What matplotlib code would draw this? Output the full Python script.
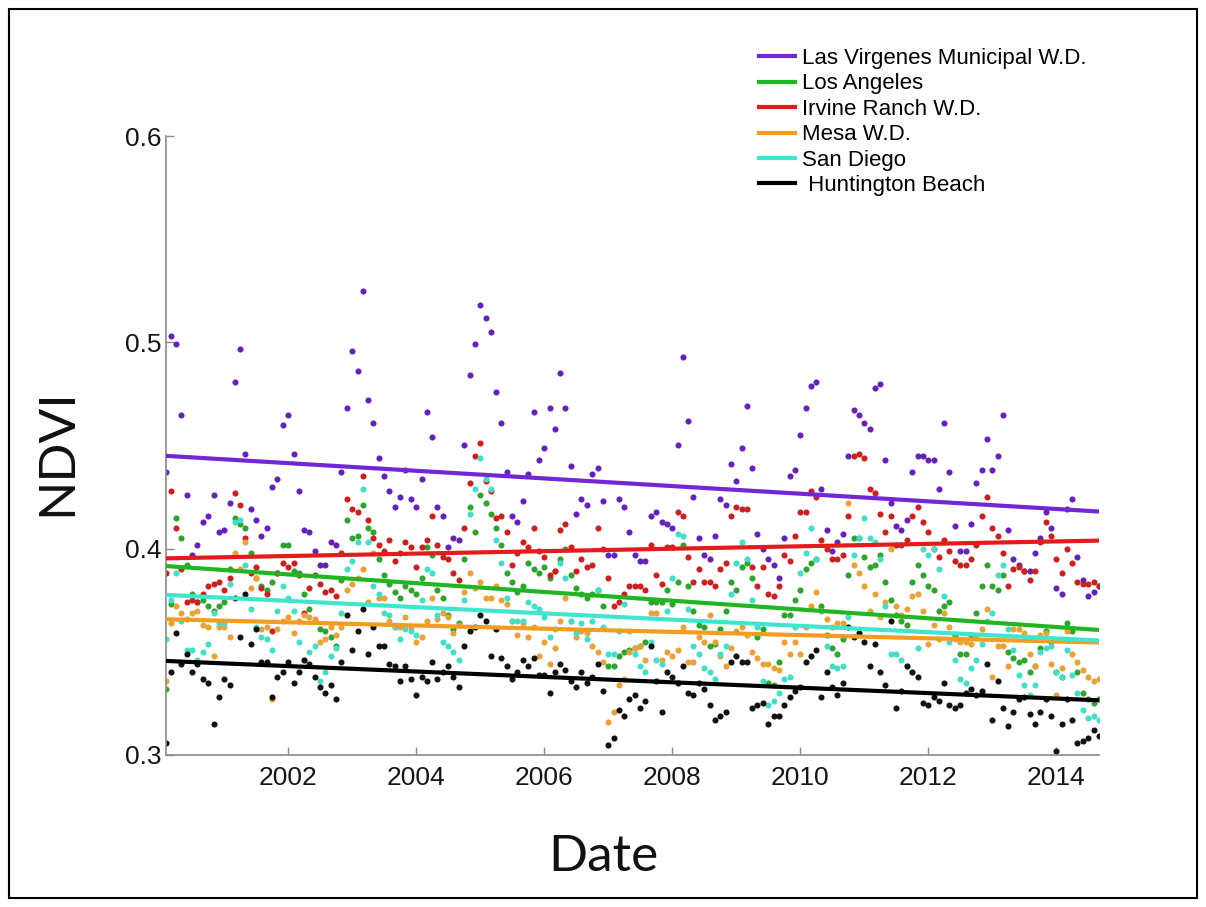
import numpy as np
import pandas as pd
import matplotlib
matplotlib.use("Agg")
import matplotlib.pyplot as plt
import matplotlib.dates as mdates
from matplotlib.lines import Line2D
from matplotlib.patches import Rectangle

# Monthly NDVI per water district, Feb 2000 - Sep 2014 (one row per year)
dates = pd.date_range("2000-02-01", "2014-09-01", freq="MS")

las_virgenes = [
    0.437, 0.503, 0.499, 0.465, 0.426, 0.397, 0.402, 0.413, 0.416, 0.426, 0.408,
    0.409, 0.422, 0.481, 0.497, 0.446, 0.419, 0.414, 0.406, 0.410, 0.430, 0.434, 0.460,
    0.465, 0.446, 0.428, 0.409, 0.408, 0.399, 0.392, 0.392, 0.403, 0.402, 0.437, 0.468,
    0.496, 0.486, 0.525, 0.472, 0.461, 0.444, 0.435, 0.428, 0.420, 0.425, 0.438, 0.424,
    0.420, 0.434, 0.466, 0.454, 0.420, 0.416, 0.401, 0.405, 0.404, 0.450, 0.484, 0.499,
    0.518, 0.512, 0.505, 0.476, 0.461, 0.437, 0.416, 0.413, 0.423, 0.436, 0.466, 0.443,
    0.449, 0.468, 0.458, 0.485, 0.468, 0.440, 0.417, 0.424, 0.421, 0.436, 0.439, 0.423,
    0.397, 0.397, 0.424, 0.420, 0.408, 0.397, 0.394, 0.394, 0.416, 0.418, 0.413, 0.412,
    0.410, 0.450, 0.493, 0.462, 0.425, 0.405, 0.397, 0.395, 0.406, 0.424, 0.421, 0.441,
    0.433, 0.449, 0.469, 0.439, 0.407, 0.400, 0.395, 0.392, 0.386, 0.405, 0.435, 0.438,
    0.455, 0.468, 0.479, 0.481, 0.429, 0.409, 0.399, 0.403, 0.407, 0.445, 0.467, 0.465,
    0.461, 0.458, 0.478, 0.480, 0.443, 0.422, 0.411, 0.409, 0.414, 0.437, 0.445, 0.445,
    0.443, 0.443, 0.429, 0.461, 0.437, 0.411, 0.399, 0.399, 0.412, 0.432, 0.438, 0.453,
    0.438, 0.445, 0.465, 0.409, 0.395, 0.392, 0.389, 0.389, 0.398, 0.405, 0.418, 0.410,
    0.381, 0.378, 0.419, 0.424, 0.396, 0.385, 0.377, 0.379, 0.382,
]

los_angeles = [
    0.332, 0.373, 0.415, 0.405, 0.392, 0.378, 0.374, 0.375, 0.372, 0.370, 0.372,
    0.374, 0.390, 0.415, 0.412, 0.410, 0.398, 0.386, 0.382, 0.380, 0.384, 0.388, 0.402,
    0.402, 0.389, 0.388, 0.378, 0.371, 0.365, 0.361, 0.360, 0.357, 0.353, 0.385, 0.414,
    0.405, 0.406, 0.421, 0.410, 0.408, 0.395, 0.387, 0.383, 0.379, 0.376, 0.382, 0.380,
    0.378, 0.386, 0.401, 0.397, 0.380, 0.376, 0.368, 0.361, 0.364, 0.395, 0.420, 0.408,
    0.426, 0.422, 0.417, 0.410, 0.402, 0.388, 0.384, 0.379, 0.382, 0.393, 0.390, 0.388,
    0.391, 0.386, 0.389, 0.395, 0.400, 0.387, 0.381, 0.378, 0.376, 0.378, 0.380, 0.372,
    0.343, 0.343, 0.348, 0.350, 0.351, 0.352, 0.353, 0.355, 0.374, 0.374, 0.374, 0.380,
    0.373, 0.384, 0.402, 0.382, 0.370, 0.363, 0.362, 0.353, 0.354, 0.361, 0.370, 0.384,
    0.380, 0.391, 0.393, 0.386, 0.357, 0.361, 0.335, 0.334, 0.345, 0.368, 0.368, 0.375,
    0.380, 0.390, 0.393, 0.395, 0.372, 0.358, 0.352, 0.349, 0.356, 0.387, 0.405, 0.405,
    0.396, 0.391, 0.392, 0.397, 0.384, 0.375, 0.368, 0.365, 0.363, 0.384, 0.392, 0.387,
    0.382, 0.380, 0.370, 0.372, 0.374, 0.358, 0.349, 0.349, 0.358, 0.369, 0.382, 0.392,
    0.382, 0.380, 0.387, 0.350, 0.347, 0.345, 0.346, 0.340, 0.343, 0.352, 0.360, 0.355,
    0.340, 0.338, 0.364, 0.360, 0.340, 0.330, 0.327, 0.325, 0.327,
]

irvine_ranch = [
    0.388, 0.428, 0.410, 0.390, 0.374, 0.375, 0.374, 0.378, 0.382, 0.383, 0.384,
    0.380, 0.386, 0.427, 0.421, 0.405, 0.388, 0.391, 0.381, 0.378, 0.360, 0.388, 0.393,
    0.391, 0.393, 0.387, 0.369, 0.381, 0.387, 0.383, 0.379, 0.380, 0.377, 0.398, 0.424,
    0.419, 0.418, 0.435, 0.414, 0.405, 0.402, 0.399, 0.404, 0.394, 0.398, 0.403, 0.401,
    0.391, 0.401, 0.404, 0.416, 0.402, 0.396, 0.395, 0.388, 0.385, 0.410, 0.432, 0.445,
    0.451, 0.433, 0.428, 0.415, 0.416, 0.408, 0.392, 0.398, 0.403, 0.401, 0.410, 0.399,
    0.396, 0.387, 0.389, 0.409, 0.412, 0.401, 0.389, 0.395, 0.391, 0.392, 0.410, 0.400,
    0.386, 0.372, 0.374, 0.378, 0.382, 0.382, 0.382, 0.380, 0.402, 0.387, 0.383, 0.401,
    0.401, 0.418, 0.416, 0.396, 0.384, 0.390, 0.384, 0.384, 0.382, 0.390, 0.393, 0.416,
    0.420, 0.419, 0.419, 0.391, 0.382, 0.391, 0.378, 0.377, 0.382, 0.397, 0.394, 0.406,
    0.418, 0.418, 0.428, 0.425, 0.404, 0.400, 0.395, 0.395, 0.397, 0.416, 0.445, 0.446,
    0.444, 0.429, 0.427, 0.417, 0.408, 0.416, 0.402, 0.402, 0.404, 0.416, 0.420, 0.413,
    0.408, 0.400, 0.396, 0.404, 0.399, 0.394, 0.392, 0.392, 0.395, 0.402, 0.416, 0.425,
    0.410, 0.406, 0.398, 0.382, 0.390, 0.391, 0.389, 0.385, 0.389, 0.403, 0.413, 0.406,
    0.395, 0.388, 0.400, 0.393, 0.384, 0.383, 0.383, 0.384, 0.382,
]

mesa = [
    0.336, 0.364, 0.372, 0.369, 0.366, 0.369, 0.370, 0.363, 0.362, 0.348, 0.362,
    0.362, 0.357, 0.398, 0.390, 0.403, 0.381, 0.386, 0.361, 0.362, 0.327, 0.361, 0.365,
    0.367, 0.359, 0.365, 0.368, 0.367, 0.366, 0.355, 0.356, 0.362, 0.358, 0.362, 0.380,
    0.383, 0.386, 0.390, 0.374, 0.398, 0.376, 0.376, 0.365, 0.362, 0.362, 0.367, 0.362,
    0.355, 0.357, 0.365, 0.376, 0.366, 0.369, 0.367, 0.359, 0.363, 0.379, 0.388, 0.381,
    0.384, 0.376, 0.376, 0.382, 0.375, 0.373, 0.365, 0.358, 0.364, 0.357, 0.362, 0.348,
    0.355, 0.344, 0.352, 0.365, 0.376, 0.365, 0.357, 0.360, 0.359, 0.353, 0.350, 0.345,
    0.316, 0.321, 0.334, 0.337, 0.350, 0.352, 0.353, 0.346, 0.369, 0.369, 0.346, 0.350,
    0.348, 0.351, 0.362, 0.345, 0.345, 0.357, 0.355, 0.368, 0.355, 0.348, 0.343, 0.352,
    0.360, 0.362, 0.358, 0.350, 0.347, 0.344, 0.344, 0.342, 0.341, 0.355, 0.349, 0.355,
    0.349, 0.362, 0.372, 0.379, 0.370, 0.366, 0.362, 0.364, 0.364, 0.422, 0.392, 0.388,
    0.382, 0.370, 0.378, 0.367, 0.374, 0.400, 0.372, 0.368, 0.371, 0.377, 0.378, 0.370,
    0.354, 0.363, 0.356, 0.369, 0.362, 0.356, 0.355, 0.355, 0.354, 0.357, 0.361, 0.371,
    0.338, 0.353, 0.353, 0.343, 0.361, 0.361, 0.359, 0.349, 0.343, 0.358, 0.359, 0.344,
    0.329, 0.342, 0.360, 0.349, 0.345, 0.341, 0.338, 0.336, 0.337,
]

san_diego = [
    0.356, 0.375, 0.388, 0.365, 0.351, 0.351, 0.346, 0.350, 0.354, 0.369, 0.364,
    0.364, 0.383, 0.413, 0.414, 0.392, 0.371, 0.362, 0.357, 0.356, 0.351, 0.370, 0.382,
    0.376, 0.370, 0.355, 0.346, 0.350, 0.353, 0.336, 0.340, 0.348, 0.352, 0.369, 0.390,
    0.394, 0.403, 0.429, 0.403, 0.382, 0.378, 0.369, 0.368, 0.362, 0.356, 0.361, 0.360,
    0.358, 0.375, 0.390, 0.388, 0.368, 0.355, 0.353, 0.350, 0.346, 0.375, 0.417, 0.429,
    0.444, 0.434, 0.429, 0.404, 0.393, 0.376, 0.365, 0.365, 0.365, 0.374, 0.372, 0.371,
    0.367, 0.357, 0.361, 0.393, 0.386, 0.365, 0.359, 0.364, 0.356, 0.365, 0.380, 0.362,
    0.349, 0.349, 0.360, 0.373, 0.360, 0.349, 0.343, 0.340, 0.355, 0.346, 0.344, 0.370,
    0.386, 0.407, 0.406, 0.371, 0.353, 0.349, 0.342, 0.340, 0.337, 0.349, 0.353, 0.378,
    0.393, 0.403, 0.395, 0.375, 0.362, 0.336, 0.324, 0.326, 0.330, 0.337, 0.338, 0.362,
    0.388, 0.398, 0.410, 0.395, 0.370, 0.353, 0.343, 0.342, 0.343, 0.367, 0.397, 0.405,
    0.415, 0.405, 0.403, 0.395, 0.372, 0.349, 0.349, 0.346, 0.343, 0.340, 0.352, 0.400,
    0.397, 0.400, 0.390, 0.377, 0.355, 0.346, 0.337, 0.335, 0.342, 0.346, 0.354, 0.365,
    0.369, 0.387, 0.392, 0.361, 0.351, 0.339, 0.334, 0.329, 0.334, 0.350, 0.352, 0.353,
    0.340, 0.338, 0.351, 0.339, 0.330, 0.322, 0.318, 0.319, 0.317,
]

huntington_beach = [
    0.306, 0.340, 0.359, 0.344, 0.349, 0.340, 0.344, 0.337, 0.335, 0.315, 0.328,
    0.337, 0.334, 0.376, 0.357, 0.378, 0.354, 0.361, 0.345, 0.345, 0.328, 0.338, 0.340,
    0.345, 0.335, 0.340, 0.346, 0.344, 0.338, 0.333, 0.330, 0.334, 0.327, 0.345, 0.368,
    0.351, 0.360, 0.371, 0.349, 0.362, 0.353, 0.353, 0.344, 0.343, 0.336, 0.343, 0.337,
    0.329, 0.338, 0.336, 0.345, 0.337, 0.340, 0.343, 0.338, 0.333, 0.353, 0.360, 0.362,
    0.368, 0.365, 0.348, 0.361, 0.347, 0.343, 0.337, 0.340, 0.346, 0.343, 0.347, 0.339,
    0.339, 0.330, 0.340, 0.344, 0.341, 0.336, 0.333, 0.340, 0.335, 0.338, 0.344, 0.331,
    0.305, 0.308, 0.322, 0.319, 0.327, 0.329, 0.323, 0.326, 0.353, 0.336, 0.321, 0.340,
    0.338, 0.335, 0.343, 0.330, 0.329, 0.335, 0.332, 0.324, 0.317, 0.319, 0.321, 0.345,
    0.348, 0.345, 0.345, 0.323, 0.324, 0.325, 0.315, 0.319, 0.319, 0.324, 0.328, 0.331,
    0.333, 0.345, 0.348, 0.351, 0.328, 0.340, 0.333, 0.329, 0.335, 0.362, 0.357, 0.359,
    0.355, 0.343, 0.354, 0.340, 0.334, 0.365, 0.323, 0.331, 0.343, 0.340, 0.338, 0.325,
    0.324, 0.328, 0.326, 0.335, 0.324, 0.323, 0.324, 0.330, 0.332, 0.329, 0.331, 0.344,
    0.317, 0.336, 0.323, 0.314, 0.321, 0.327, 0.328, 0.320, 0.315, 0.321, 0.327, 0.319,
    0.302, 0.315, 0.327, 0.317, 0.306, 0.307, 0.308, 0.312, 0.309,
]

labels = ["Las Virgenes Municipal W.D.", "Los Angeles", "Irvine Ranch W.D.",
          "Mesa W.D.", "San Diego", " Huntington Beach"]
series = [las_virgenes, los_angeles, irvine_ranch, mesa, san_diego, huntington_beach]

# linear trend, value at first and last month
trend_start = [0.445, 0.3916, 0.3953, 0.3658, 0.3776, 0.3456]
trend_end = [0.418, 0.3606, 0.4039, 0.3545, 0.3555, 0.3265]

dot_colors = ["#6522b8", "#2ea32e", "#c92020", "#e9a13a", "#46dcc8", "#111111"]
line_colors = ["#7127d6", "#22b422", "#e31b1b", "#f29c22", "#3fe6cf", "#000000"]

fig = plt.figure(figsize=(12.06, 9.07), dpi=100)
ax = fig.add_axes([165.5 / 1206, 1 - 755 / 907, (1099 - 165.5) / 1206, (755 - 136) / 907])

for vals, c in zip(series, dot_colors):
    ax.plot(dates, vals, "o", ms=4.4, mec="none", color=c, zorder=2)

for s, e, c in zip(trend_start, trend_end, line_colors):
    ax.plot([dates[0], dates[-1]], [s, e], "-", lw=3.0, color=c, zorder=3,
            solid_capstyle="butt")

ax.set_xlim(dates[0], dates[-1])
ax.set_ylim(0.3, 0.6)
ax.set_yticks([0.3, 0.4, 0.5, 0.6])
ax.set_yticklabels(["0.3", "0.4", "0.5", "0.6"])
ax.xaxis.set_major_locator(mdates.YearLocator(2))
ax.xaxis.set_major_formatter(mdates.DateFormatter("%Y"))

for side in ["top", "right"]:
    ax.spines[side].set_visible(False)
for side in ["left", "bottom"]:
    ax.spines[side].set_color("#8a8a8a")
    ax.spines[side].set_linewidth(1.2)
ax.tick_params(direction="in", length=6, width=1, color="#8a8a8a",
               labelsize=19, labelcolor="#151515")
ax.tick_params(axis="x", pad=8)
ax.tick_params(axis="y", pad=3)
for lab in ax.get_xticklabels() + ax.get_yticklabels():
    lab.set_fontfamily("Liberation Sans")

fig.text(57 / 1206, 1 - 452 / 907, "NDVI", rotation=90, ha="center", va="center",
         fontsize=37, family="Lato", color="#111111")
fig.text(603 / 1206, 1 - 857 / 907, "Date", ha="center", va="center",
         fontsize=37, family="Lato", color="#111111")

handles = [Line2D([], [], color=c, lw=3) for c in line_colors]
fig.legend(handles, labels, loc="upper left", bbox_to_anchor=(759 / 1206, 1 - 48 / 907),
           frameon=False, prop={"family": "Liberation Sans", "size": 16},
           handlelength=1.6, handletextpad=0.32, labelspacing=0.2,
           borderpad=0, borderaxespad=0)

fig.patches.append(Rectangle((9 / 1206, 1 - 898 / 907), (1197 - 9) / 1206, (898 - 9) / 907,
                             transform=fig.transFigure, fill=False, lw=1.5,
                             edgecolor="black"))

fig.savefig("out.png", dpi=100)
